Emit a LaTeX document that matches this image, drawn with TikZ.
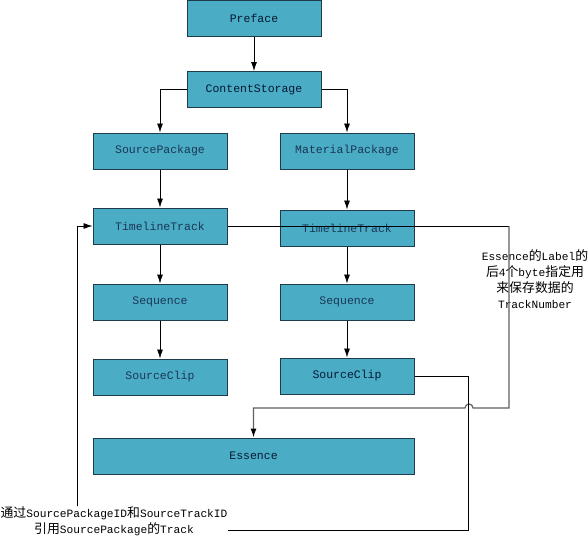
\documentclass[tikz,border=0pt]{standalone}
\usepackage{fontspec}
\setmonofont{Liberation Mono}
\newfontfamily\cjkfont{Noto Sans CJK SC}[Scale=1.15]
\newcommand{\zh}[1]{{\cjkfont #1}}
\usetikzlibrary{arrows.meta, positioning}
\definecolor{boxblue}{RGB}{75,172,198}
\definecolor{boxedge}{RGB}{30,60,75}
\definecolor{boxtext}{RGB}{25,55,85}
\definecolor{boxtextdark}{RGB}{5,25,50}

\begin{document}
\begin{tikzpicture}[
    box/.style={rectangle, draw=boxedge, fill=boxblue, line width=1pt, minimum width=134pt, minimum height=36pt, align=center, inner sep=0pt, font=\ttfamily\fontsize{11.5}{13}\selectfont, text=boxtext},
    boxd/.style={box, text=boxtextdark},
    arr/.style={-{Latex[length=9pt,width=6pt]}, line width=0.8pt},
    garr/.style={-{Latex[length=9pt,width=6pt,color=black]}, line width=1.2pt, draw=gray!75!black},
    link/.style={line width=0.8pt},
    note/.style={align=center, inner sep=0pt, font=\ttfamily\fontsize{11.2}{16}\selectfont},
    node distance=34pt
]
\useasboundingbox (0,0) rectangle (588pt,-554pt);

\node[boxd] (preface) at (254pt,-18.5pt) {Preface};
\node[boxd, below=34pt of preface] (store) {ContentStorage};

\node[box] (srcpkg) at (160pt,-151pt) {SourcePackage};
\node[box, below=38pt of srcpkg] (srctrack) {TimelineTrack};
\node[box, below=39pt of srctrack] (srcseq) {Sequence};
\node[box, below=38pt of srcseq] (srcclip) {SourceClip};

\node[box] (matpkg) at (347pt,-151pt) {MaterialPackage};
\node[box, below=40pt of matpkg] (mattrack) {TimelineTrack};
\node[box, below=37pt of mattrack] (matseq) {Sequence};
\node[boxd, below=37pt of matseq] (matclip) {SourceClip};

\node[boxd, minimum width=321pt] (essence) at (253.5pt,-456pt) {Essence};

\node[note] (labelnote) at (535pt,-279pt) {Essence\zh{的}Label\zh{的}\\\zh{后}4\zh{个}byte\zh{指定用}\\\zh{来保存数据的}\\TrackNumber};
\node[note] (refnote) at (114pt,-521pt) {\zh{通过}SourcePackageID\zh{和}SourceTrackID\\\zh{引用}SourcePackage\zh{的}Track};

\draw[arr] (preface) -- (store);
\draw[arr] (store.west) -| (srcpkg.north);
\draw[arr] (store.east) -| (matpkg.north);
\draw[arr] (srcpkg) -- (srctrack);
\draw[arr] (srctrack) -- (srcseq);
\draw[arr] (srcseq) -- (srcclip);
\draw[arr] (matpkg) -- (mattrack);
\draw[arr] (mattrack) -- (matseq);
\draw[arr] (matseq) -- (matclip);

% track number -> essence
\coordinate (bendA) at (509pt,-408pt);
\draw[link] (srctrack.east) -- (srctrack.east -| bendA);
\draw[garr] (srctrack.east -| bendA) -- (bendA) -- (473pt,-408pt)
    arc[start angle=0, end angle=180, radius=4pt] -| (essence.north);

% source clip -> source track
\coordinate (bendB) at (468pt,-530pt);
\draw[link] (matclip.east) -| (bendB) -- (bendB -| refnote.east);
\draw[arr] ([xshift=-37pt]refnote.north) |- (srctrack.west);
\end{tikzpicture}
\end{document}
